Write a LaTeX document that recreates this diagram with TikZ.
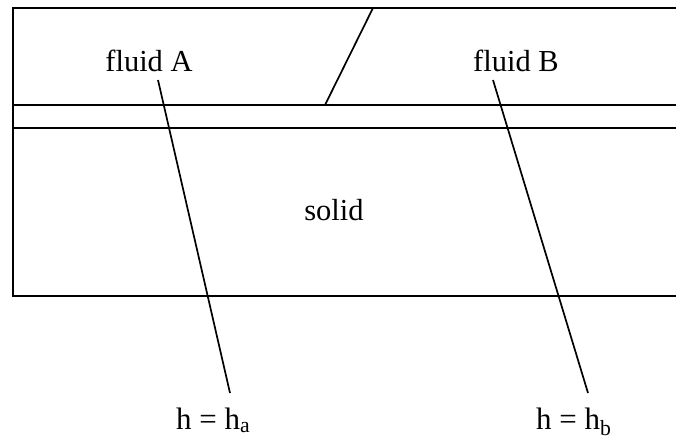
\documentclass[tikz,border=0pt]{standalone}
\usepackage{fontspec}
\setmainfont{Liberation Serif}
\begin{document}
\begin{tikzpicture}[x=1pt,y=-1pt,
  edge/.style={line width=1.7pt,black},
  lbl/.style={font=\fontsize{30.5}{34}\selectfont,inner sep=0pt},
  hlbl/.style={font=\fontsize{31}{34}\selectfont,inner sep=0pt,anchor=base west}]
\useasboundingbox (0,0) rectangle (676,439);
% outline
\coordinate (tl) at (13,8);
\coordinate (tr) at (676,8);
\coordinate (bl) at (13,296);
\coordinate (br) at (676,296);
\coordinate (i1l) at (13,105);
\coordinate (i1r) at (676,105);
\coordinate (i2l) at (13,128);
\coordinate (i2r) at (676,128);
\draw[edge] (tr) -- (tl) -- (bl) -- (br);
\draw[edge] (i1l) -- (i1r);
\draw[edge] (i2l) -- (i2r);
% dividing slanted line
\coordinate (s1) at (373,8);
\coordinate (s2) at (325,105);
\draw[edge] (s1) -- (s2);
% labels
\node[lbl,anchor=base] (fa) at (149,71) {fluid A};
\node[lbl,anchor=base] (fb) at (516,71) {fluid B};
\node[lbl] (so) at (334,210) {solid};
\node[hlbl] (ha) at (176,429) {h = h\textsubscript{a}};
\node[hlbl] (hb) at (536,429) {h = h\textsubscript{b}};
% leader lines
\coordinate (a1) at (158,80);
\coordinate (a2) at (230,393);
\coordinate (b1) at (493,80);
\coordinate (b2) at (588,393);
\draw[edge] (a1) -- (a2);
\draw[edge] (b1) -- (b2);
\end{tikzpicture}
\end{document}
